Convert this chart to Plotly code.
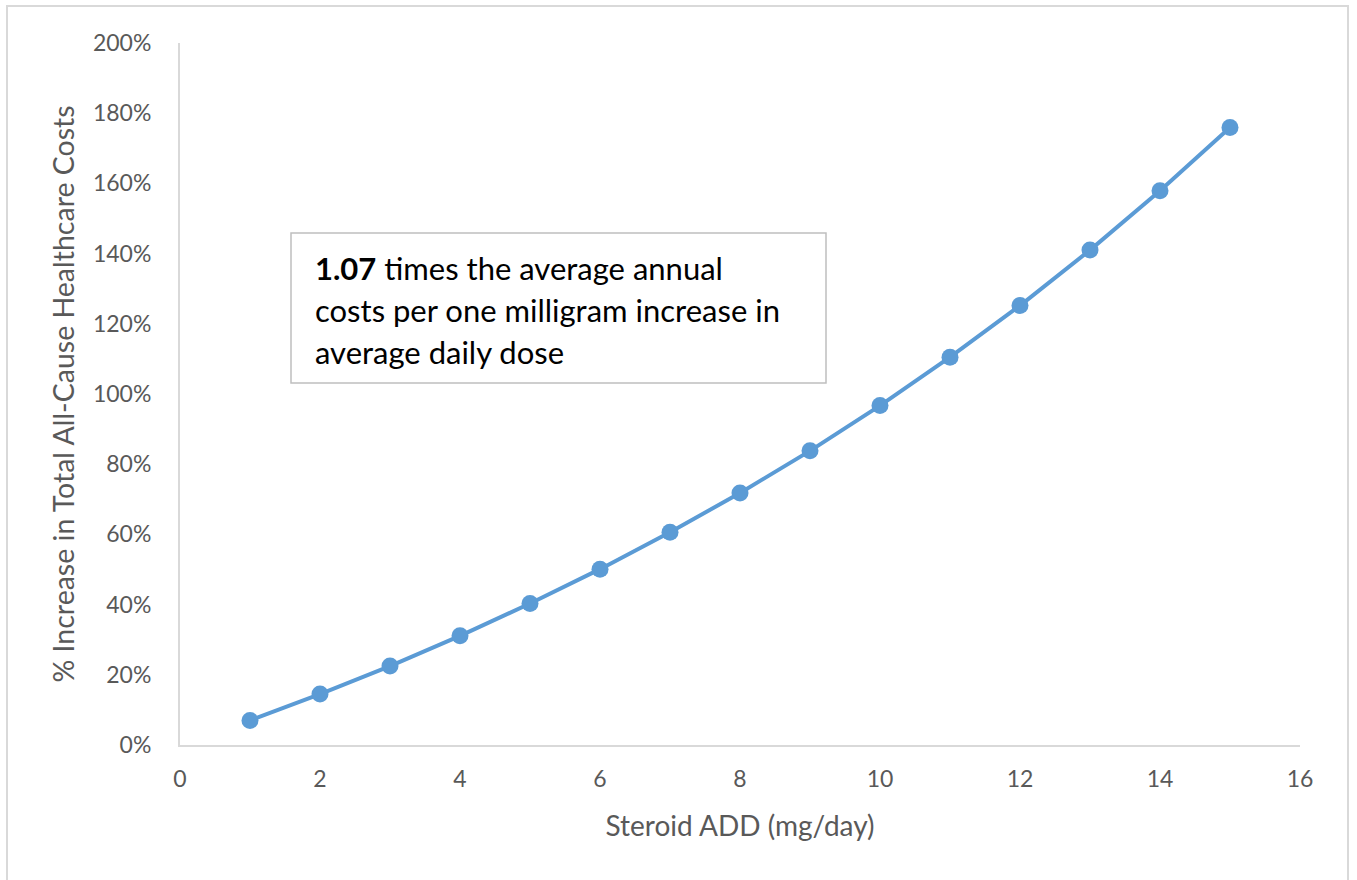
import plotly.graph_objects as go

dose = [1, 2, 3, 4, 5, 6, 7, 8, 9, 10, 11, 12, 13, 14, 15]
pct_increase = [7.0, 14.5, 22.5, 31.1, 40.3, 50.1, 60.6, 71.8, 83.8, 96.7, 110.5, 125.2, 141.0, 157.9, 175.9]
y_ticks = [0, 20, 40, 60, 80, 100, 120, 140, 160, 180, 200]
y_tick_labels = [f"{v}%" for v in y_ticks]
x_ticks = [0, 2, 4, 6, 8, 10, 12, 14, 16]
box_lines = ["<b>1.07</b> times the average annual",
             "costs per one milligram increase in",
             "average daily dose"]

FONT = "Lato"
GRAY = "#595959"
L, R, T, B = 180, 57, 43, 135
W, H = 1357, 880
pw, ph = W - L - R, H - T - B

def px(xpix):
    return (xpix - L) / pw

def py(ypix):
    return (H - B - ypix) / ph

fig = go.Figure()
fig.add_trace(go.Scatter(
    x=dose, y=pct_increase, mode="lines+markers",
    line=dict(color="#5B9BD5", width=4),
    marker=dict(color="#5B9BD5", size=17),
    showlegend=False, hoverinfo="skip"))

fig.update_layout(
    width=W, height=H,
    margin=dict(l=L, r=R, t=T, b=B),
    paper_bgcolor="white", plot_bgcolor="white",
    font=dict(family=FONT, color=GRAY, size=24),
    xaxis=dict(range=[0, 16], tickvals=x_ticks, showgrid=False, zeroline=False,
               showline=True, linecolor="#D9D9D9", linewidth=2, ticks="",
               ticklabelstandoff=12,
               tickfont=dict(size=23, color=GRAY, family=FONT),
               title=dict(text="Steroid ADD (mg/day)", standoff=26,
                          font=dict(size=28, color=GRAY, family=FONT))),
    yaxis=dict(range=[0, 200], tickvals=y_ticks, ticktext=y_tick_labels,
               showgrid=False, zeroline=False,
               showline=True, linecolor="#D9D9D9", linewidth=2, ticks="",
               ticklabelstandoff=22,
               tickfont=dict(size=23, color=GRAY, family=FONT),
               title=dict(text="% Increase in Total All-Cause Healthcare Costs", standoff=10,
                          font=dict(size=28.5, color=GRAY, family=FONT))),
)

# outer frame (bottom edge falls just outside the picture)
fig.add_shape(type="rect", xref="paper", yref="paper",
              x0=px(7), x1=px(1348), y0=py(886), y1=py(6),
              line=dict(color="#D9D9D9", width=2), layer="below")
# text box
fig.add_shape(type="rect", xref="paper", yref="paper",
              x0=px(291), x1=px(826), y0=py(383), y1=py(233),
              line=dict(color="#BFBFBF", width=1.5), fillcolor="white")
for i, t in enumerate(box_lines):
    fig.add_annotation(xref="paper", yref="paper", x=px(313), y=py(268 + 42 * i),
                       xanchor="left", yanchor="middle", text=t, showarrow=False,
                       font=dict(family=FONT, size=31, color="black"))

fig.write_html("out.html", config={"displayModeBar": False},
               post_script="document.body.style.margin='0';")
